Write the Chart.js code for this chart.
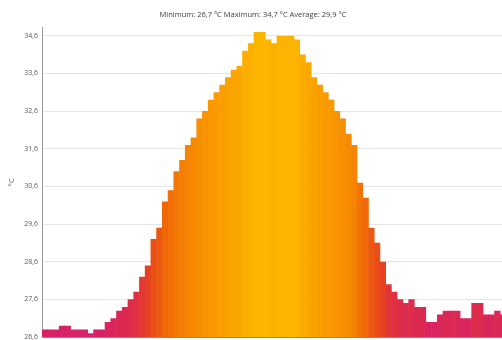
<!DOCTYPE html>
<html>
<head>
<meta charset="utf-8">
<script src="https://cdn.jsdelivr.net/npm/chart.js@4.4.1/dist/chart.umd.min.js"></script>
<style>
  html, body { margin: 0; padding: 0; background: #ffffff; overflow: hidden; }
  #wrap { width: 506px; height: 340px; }
</style>
</head>
<body>
<div id="wrap"><canvas id="chart" width="506" height="340"></canvas></div>
<script>
// Temperature histogram bars, °C, left to right
const temperatures = [
  26.8, 26.8, 26.8, 26.9, 26.9, 26.8, 26.8, 26.8, 26.7, 26.8,
  26.8, 27.0, 27.1, 27.3, 27.4, 27.6, 27.8, 28.2, 28.5, 29.2,
  29.5, 30.2, 30.5, 31.0, 31.3, 31.7, 31.9, 32.4, 32.6, 32.9,
  33.1, 33.3, 33.5, 33.7, 33.8, 34.2, 34.4, 34.7, 34.7, 34.5,
  34.4, 34.6, 34.6, 34.6, 34.5, 34.1, 33.9, 33.5, 33.3, 33.1,
  32.9, 32.6, 32.4, 32.0, 31.7, 30.7, 30.3, 29.5, 29.1, 28.6,
  28.0, 27.8, 27.6, 27.5, 27.6, 27.4, 27.4, 27.0, 27.0, 27.2,
  27.3, 27.3, 27.3, 27.1, 27.1, 27.5, 27.5, 27.2, 27.2, 27.3,
  27.2
];

// Category labels (not drawn)
const binLabels = temperatures.map((_, i) => String(i + 1));

// Y axis tick values
const yTicks = [26.6, 27.6, 28.6, 29.6, 30.6, 31.6, 32.6, 33.6, 34.6];
const yMin = 26.6;
const yMax = 34.82;

// Colour ramp: value -> RGB
const rampStops = [
  [26.7, [214, 32, 108]],
  [27.6, [222, 44, 74]],
  [28.6, [230, 66, 34]],
  [29.6, [237, 90, 14]],
  [30.6, [241, 112, 6]],
  [32.0, [246, 138, 2]],
  [33.4, [250, 160, 0]],
  [34.7, [253, 182, 0]]
];

function rampColor(v) {
  if (v <= rampStops[0][0]) return 'rgb(' + rampStops[0][1].join(',') + ')';
  for (let i = 1; i < rampStops.length; i++) {
    const [v1, c1] = rampStops[i];
    const [v0, c0] = rampStops[i - 1];
    if (v <= v1) {
      const t = (v - v0) / (v1 - v0);
      const c = c0.map((a, k) => Math.round(a + (c1[k] - a) * t));
      return 'rgb(' + c.join(',') + ')';
    }
  }
  return 'rgb(' + rampStops[rampStops.length - 1][1].join(',') + ')';
}

const fmt = v => v.toFixed(1).replace('.', ',');
const minT = Math.min(...temperatures);
const maxT = Math.max(...temperatures);
const avgT = temperatures.reduce((a, b) => a + b, 0) / temperatures.length;
const titleText = 'Minimum: ' + fmt(minT) + ' °C Maximum: ' + fmt(maxT) + ' °C Average: ' + fmt(avgT) + ' °C';

const FONT = '"Open Sans", "Noto Sans", sans-serif';

new Chart(document.getElementById('chart'), {
  type: 'bar',
  data: {
    labels: binLabels,
    datasets: [{
      data: temperatures,
      backgroundColor: temperatures.map(rampColor),
      borderWidth: 0,
      categoryPercentage: 1.0,
      barPercentage: 1.1
    }]
  },
  options: {
    responsive: false,
    animation: false,
    events: [],
    layout: { padding: { top: 0, left: 0, right: 0, bottom: 3 } },
    plugins: {
      legend: { display: false },
      tooltip: { enabled: false },
      title: {
        display: true,
        text: titleText,
        color: '#3c3c3c',
        font: { family: FONT, size: 7.5, weight: 'normal' },
        padding: { top: 10, bottom: 8.5 }
      }
    },
    scales: {
      x: {
        type: 'category',
        ticks: { display: false },
        grid: { display: false, drawTicks: false },
        border: { display: true, color: '#8a8a8a', width: 1 },
        afterFit: scale => { scale.height = 0; scale.paddingLeft = 0; scale.paddingRight = 0; }
      },
      y: {
        min: yMin,
        max: yMax,
        afterBuildTicks: scale => { scale.ticks = yTicks.map(v => ({ value: v })); },
        afterFit: scale => { scale.width = 42; scale.paddingTop = 0; scale.paddingBottom = 0; },
        ticks: {
          padding: 4,
          color: '#5a5a5a',
          font: { family: FONT, size: 7 },
          callback: v => fmt(v)
        },
        grid: { color: '#e6e6e6', drawTicks: false, lineWidth: 1 },
        border: { display: true, color: '#9a9a9a', width: 1 },
        title: {
          display: true,
          text: '°C',
          color: '#5a5a5a',
          font: { family: FONT, size: 8 },
          padding: { top: 7, bottom: 0 }
        }
      }
    }
  }
});
</script>
</body>
</html>
